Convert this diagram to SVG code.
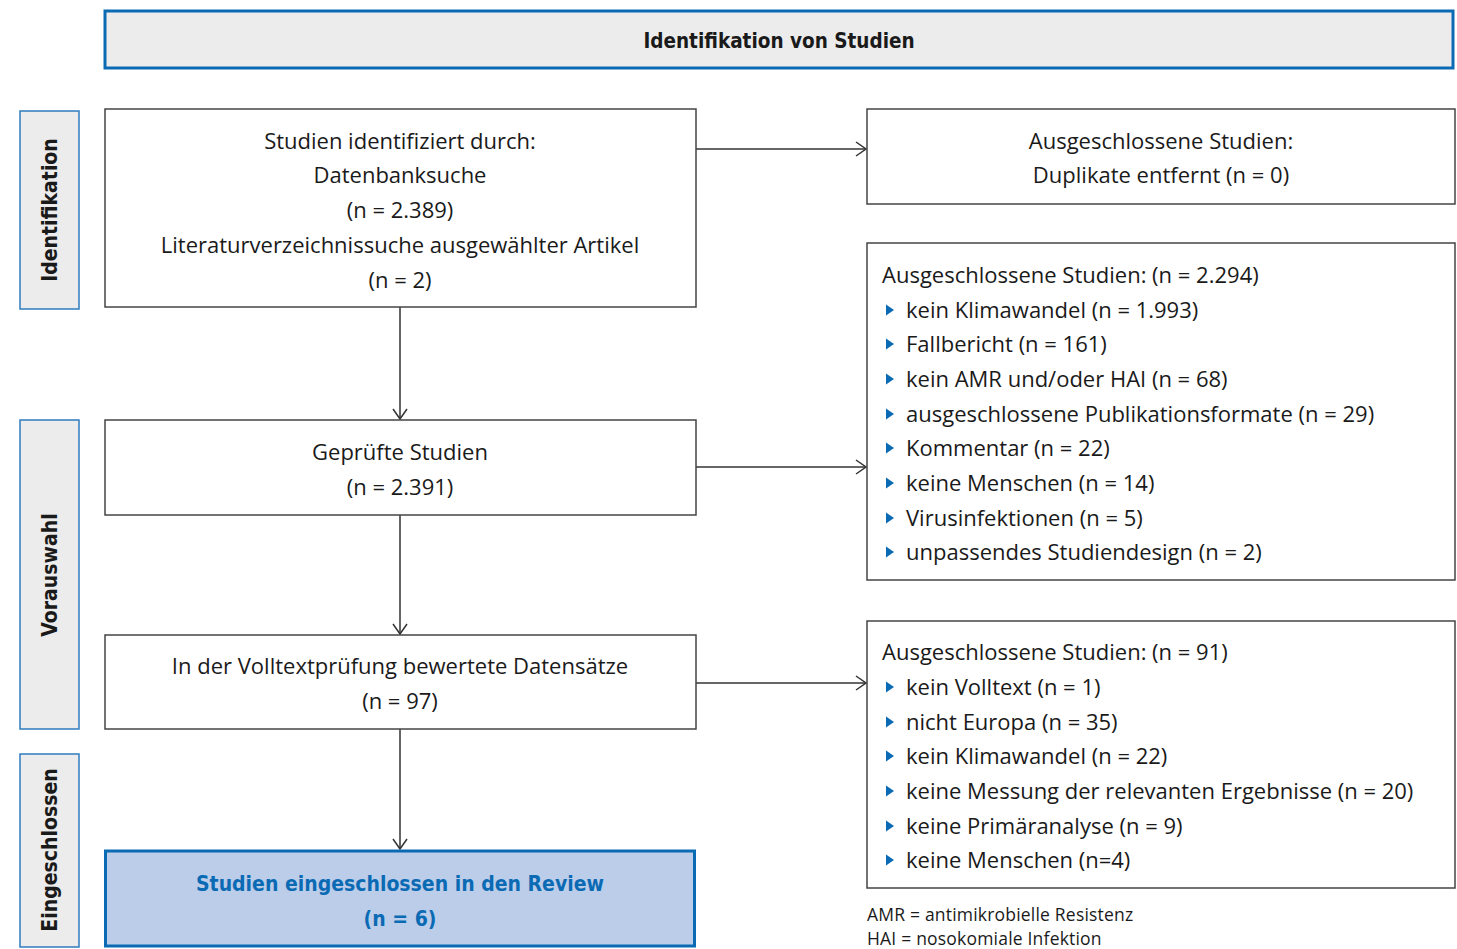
<svg xmlns="http://www.w3.org/2000/svg" width="1457" height="949" viewBox="0 0 1457 949">
<style>
  .t{font-family:"Open Sans","Liberation Sans",sans-serif;font-size:22px;fill:#1a1a1a}
  .c{text-anchor:middle}
  .box{fill:#ffffff;stroke:#444;stroke-width:1.5}
  .side{fill:#ececec;stroke:#2f7cc0;stroke-width:1.5}
  .sl{font-family:"DejaVu Sans Condensed","DejaVu Sans",sans-serif;font-weight:bold;font-size:21px;fill:#1a1a1a;text-anchor:middle}
  .bl{fill:#0a6ab4}
  .con{stroke:#333;stroke-width:1.5;fill:none}
  .fn{font-family:"Open Sans","Liberation Sans",sans-serif;font-size:17.5px;fill:#1a1a1a;letter-spacing:0.2px}
  .inc{font-family:"DejaVu Sans Condensed","DejaVu Sans",sans-serif;font-weight:bold;font-size:21px;fill:#0a6ab4}
</style>
<defs>
  <marker id="ah" viewBox="0 0 12 16" refX="11" refY="8" markerWidth="12" markerHeight="16" markerUnits="userSpaceOnUse" orient="auto">
    <path d="M1,1 L11,8 L1,15" fill="none" stroke="#333" stroke-width="1.5"/>
  </marker>
  <path id="tri" d="M0,-5.5 L8,0 L0,5.5 Z"/>
</defs>

<g id="header">
  <rect x="105" y="11" width="1348" height="57" fill="#ececec" stroke="#0a6ab4" stroke-width="3"/>
  <text x="779" y="48" class="c" style="font-family:'DejaVu Sans Condensed','DejaVu Sans',sans-serif;font-weight:bold;font-size:20.5px;fill:#1a1a1a">Identifikation von Studien</text>
</g>

<g id="side-identifikation">
  <rect x="20" y="111" width="59" height="198" class="side"/>
  <text class="sl" transform="translate(57,210) rotate(-90)">Identifikation</text>
</g>
<g id="side-vorauswahl">
  <rect x="20" y="420" width="59" height="309" class="side"/>
  <text class="sl" transform="translate(57,575) rotate(-90)">Vorauswahl</text>
</g>
<g id="side-eingeschlossen">
  <rect x="20" y="754" width="59" height="193" class="side"/>
  <text class="sl" transform="translate(57,850) rotate(-90)">Eingeschlossen</text>
</g>

<g id="connectors">
  <line x1="400" y1="307" x2="400" y2="419" class="con" marker-end="url(#ah)"/>
  <line x1="400" y1="515" x2="400" y2="634" class="con" marker-end="url(#ah)"/>
  <line x1="400" y1="729" x2="400" y2="849" class="con" marker-end="url(#ah)"/>
  <line x1="696" y1="149" x2="866" y2="149" class="con" marker-end="url(#ah)"/>
  <line x1="696" y1="467" x2="866" y2="467" class="con" marker-end="url(#ah)"/>
  <line x1="696" y1="683" x2="866" y2="683" class="con" marker-end="url(#ah)"/>
</g>

<g id="identified">
  <rect x="105" y="109" width="591" height="198" class="box"/>
  <text class="t c" x="400" y="149">Studien identifiziert durch:</text>
  <text class="t c" x="400" y="183">Datenbanksuche</text>
  <text class="t c" x="400" y="218">(n = 2.389)</text>
  <text class="t c" x="400" y="253">Literaturverzeichnissuche ausgewählter Artikel</text>
  <text class="t c" x="400" y="288">(n = 2)</text>
</g>

<g id="screened">
  <rect x="105" y="420" width="591" height="95" class="box"/>
  <text class="t c" x="400" y="460">Geprüfte Studien</text>
  <text class="t c" x="400" y="495">(n = 2.391)</text>
</g>

<g id="fulltext">
  <rect x="105" y="635" width="591" height="94" class="box"/>
  <text class="t c" x="400" y="674">In der Volltextprüfung bewertete Datensätze</text>
  <text class="t c" x="400" y="709">(n = 97)</text>
</g>

<g id="included">
  <rect x="105.5" y="851" width="589" height="95" fill="#bccde9" stroke="#0a6ab4" stroke-width="3"/>
  <text class="inc c" x="400" y="891">Studien eingeschlossen in den Review</text>
  <text class="inc c" x="400" y="926">(n = 6)</text>
</g>

<g id="excluded-duplicates">
  <rect x="867" y="109" width="588" height="95" class="box"/>
  <text class="t c" x="1161" y="149">Ausgeschlossene Studien:</text>
  <text class="t c" x="1161" y="183">Duplikate entfernt (n = 0)</text>
</g>

<g id="excluded-screening">
  <rect x="867" y="243" width="588" height="337" class="box"/>
  <text class="t" x="882" y="283">Ausgeschlossene Studien: (n = 2.294)</text>
  <use href="#tri" class="bl" x="886" y="310"/>
  <text class="t" x="906" y="318">kein Klimawandel (n = 1.993)</text>
  <use href="#tri" class="bl" x="886" y="344"/>
  <text class="t" x="906" y="352">Fallbericht (n = 161)</text>
  <use href="#tri" class="bl" x="886" y="379"/>
  <text class="t" x="906" y="387">kein AMR und/oder HAI (n = 68)</text>
  <use href="#tri" class="bl" x="886" y="414"/>
  <text class="t" x="906" y="422">ausgeschlossene Publikationsformate (n = 29)</text>
  <use href="#tri" class="bl" x="886" y="448"/>
  <text class="t" x="906" y="456">Kommentar (n = 22)</text>
  <use href="#tri" class="bl" x="886" y="483"/>
  <text class="t" x="906" y="491">keine Menschen (n = 14)</text>
  <use href="#tri" class="bl" x="886" y="518"/>
  <text class="t" x="906" y="526">Virusinfektionen (n = 5)</text>
  <use href="#tri" class="bl" x="886" y="552"/>
  <text class="t" x="906" y="560">unpassendes Studiendesign (n = 2)</text>
</g>

<g id="excluded-fulltext">
  <rect x="867" y="621" width="588" height="267" class="box"/>
  <text class="t" x="882" y="660">Ausgeschlossene Studien: (n = 91)</text>
  <use href="#tri" class="bl" x="886" y="687"/>
  <text class="t" x="906" y="695">kein Volltext (n = 1)</text>
  <use href="#tri" class="bl" x="886" y="722"/>
  <text class="t" x="906" y="730">nicht Europa (n = 35)</text>
  <use href="#tri" class="bl" x="886" y="756"/>
  <text class="t" x="906" y="764">kein Klimawandel (n = 22)</text>
  <use href="#tri" class="bl" x="886" y="791"/>
  <text class="t" x="906" y="799">keine Messung der relevanten Ergebnisse (n = 20)</text>
  <use href="#tri" class="bl" x="886" y="826"/>
  <text class="t" x="906" y="834">keine Primäranalyse (n = 9)</text>
  <use href="#tri" class="bl" x="886" y="860"/>
  <text class="t" x="906" y="868">keine Menschen (n=4)</text>
</g>

<g id="footnote">
  <text class="fn" x="867" y="921">AMR = antimikrobielle Resistenz</text>
  <text class="fn" x="867" y="945">HAI = nosokomiale Infektion</text>
</g>
</svg>
